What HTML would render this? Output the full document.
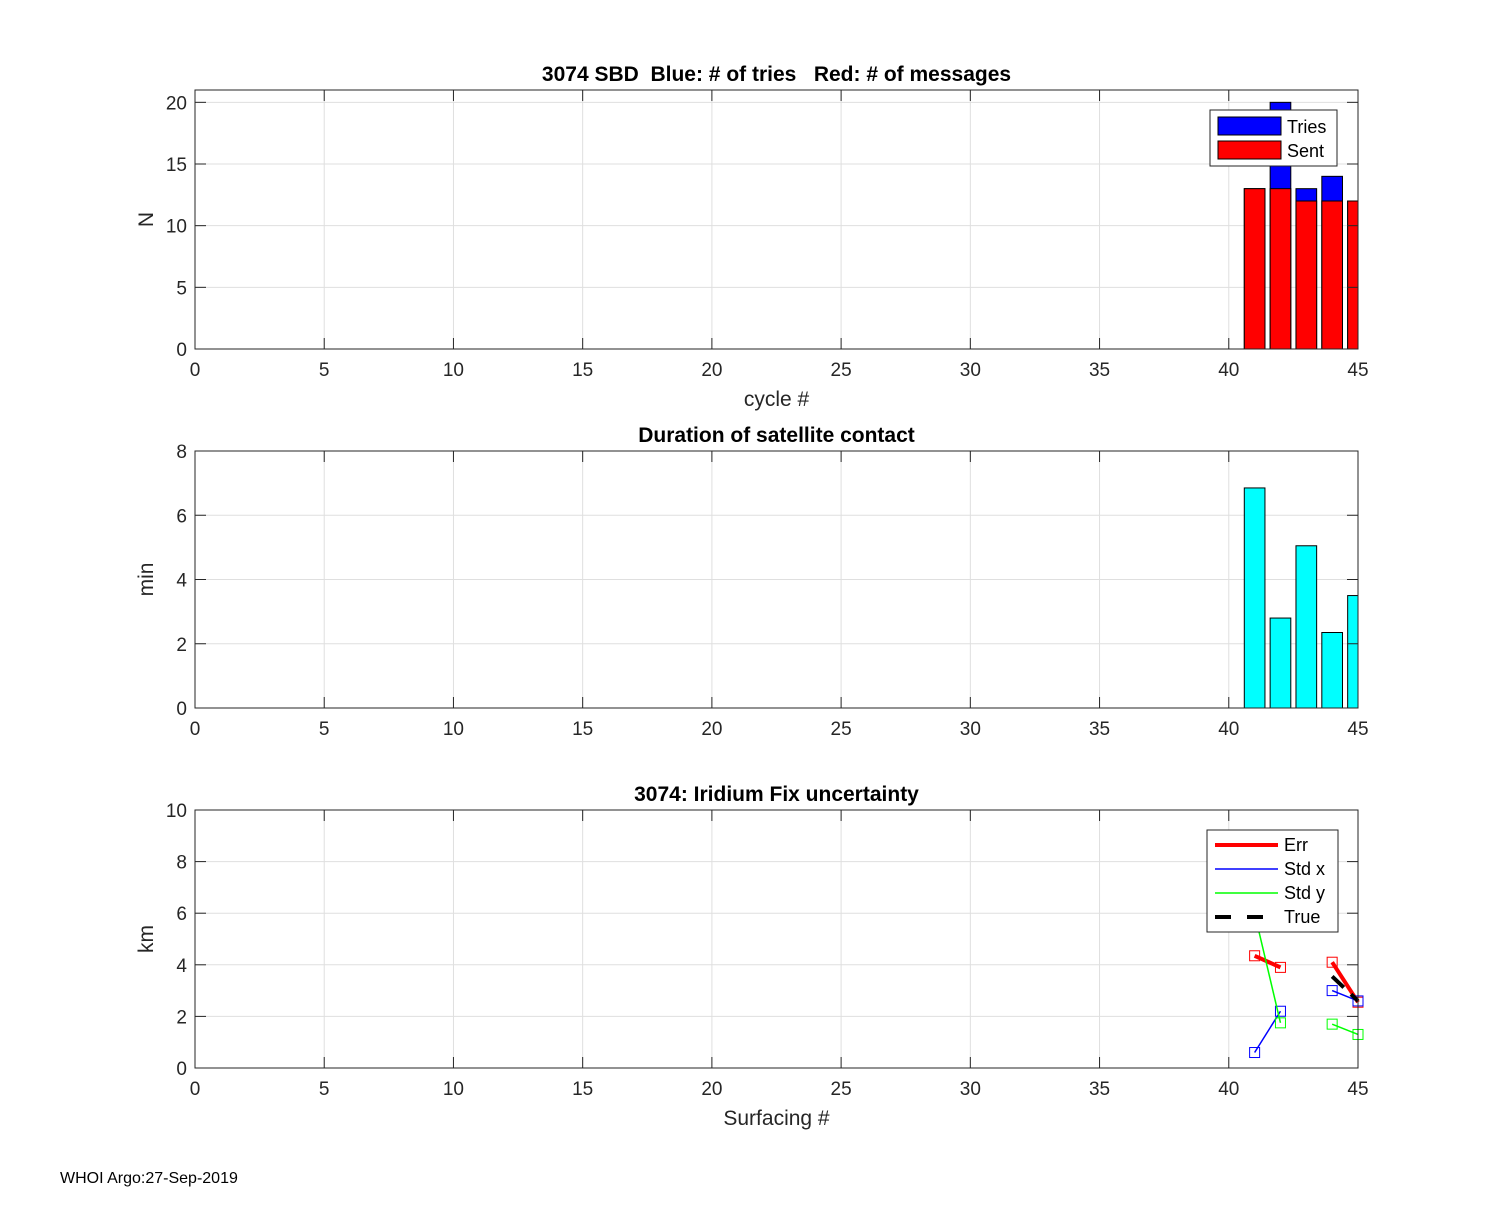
<!DOCTYPE html>
<html><head><meta charset="utf-8"><style>
body{margin:0;background:#fff;width:1500px;height:1200px;overflow:hidden;font-family:"Liberation Sans",sans-serif}
svg text{font-family:"Liberation Sans",sans-serif;white-space:pre}
</style></head><body>
<svg id="fig" width="1500" height="1200" xmlns="http://www.w3.org/2000/svg">
<rect width="1500" height="1200" fill="#fff"/>
<text x="60" y="1183" font-size="16">WHOI Argo:27-Sep-2019</text>
</svg>
<script>
const cycles=[41,42,43,44,45];
const tries=[13,20,13,14,12];
const sent=[13,13,12,12,12];
const durCycles=[41,42,43,44,45];
const duration=[6.85,2.8,5.05,2.35,3.5];
const errX=[41,42,44,45];
const errVals=[4.35,3.9,4.1,2.55];
const stdxVals=[0.6,2.2,3.0,2.6];
const stdyVals=[6.0,1.75,1.7,1.3];
const trueX=[44,45];
const trueVals=[3.55,2.6];
const xTicks=[0,5,10,15,20,25,30,35,40,45];

const NS="http://www.w3.org/2000/svg";
const svg=document.getElementById('fig');
function mk(tag,attrs,parent){const e=document.createElementNS(NS,tag);for(const k in attrs)e.setAttribute(k,attrs[k]);(parent||svg).appendChild(e);return e;}
const X0=195,X1=1358;
function xs(v){return X0+(v/45)*(X1-X0);}

function panel(name,top,bottom,ymax,yTicks,ylabel,title,xlabel){
  const ys=v=>bottom-(v/ymax)*(bottom-top);
  const g=mk('g',{});
  
  
  mk('rect',{x:X0,y:top,width:X1-X0,height:bottom-top,fill:'#fff'},g);
  xTicks.forEach(t=>{const l=mk('line',{x1:xs(t),x2:xs(t),y1:top,y2:bottom,stroke:'#dfdfdf','stroke-width':1},g);
    });
  yTicks.forEach(t=>{const l=mk('line',{x1:X0,x2:X1,y1:ys(t),y2:ys(t),stroke:'#dfdfdf','stroke-width':1},g);
    });
  const plot=mk('g',{},g);
  const frame=mk('rect',{x:X0,y:top,width:X1-X0,height:bottom-top,fill:'none',stroke:'#262626','stroke-width':1},g);
  
  xTicks.forEach(t=>{
    mk('line',{x1:xs(t),x2:xs(t),y1:bottom,y2:bottom-11,stroke:'#262626'},g);
    mk('line',{x1:xs(t),x2:xs(t),y1:top,y2:top+11,stroke:'#262626'},g);
    const tx=mk('text',{x:xs(t),y:bottom+27,'font-size':19,'text-anchor':'middle',fill:'#262626'},g);tx.textContent=t;
    
  });
  yTicks.forEach(t=>{
    mk('line',{x1:X0,x2:X0+11,y1:ys(t),y2:ys(t),stroke:'#262626'},g);
    mk('line',{x1:X1,x2:X1-11,y1:ys(t),y2:ys(t),stroke:'#262626'},g);
    const tx=mk('text',{x:X0-8,y:ys(t)+7,'font-size':19,'text-anchor':'end',fill:'#262626'},g);tx.textContent=t;
    
  });
  const tt=mk('text',{x:(X0+X1)/2,y:top-9,'font-size':21,'font-weight':'bold','text-anchor':'middle'},g);tt.textContent=title;
  
  const yl=mk('text',{x:0,y:0,'font-size':21,'text-anchor':'middle',fill:'#262626',transform:`translate(${X0-42},${(top+bottom)/2}) rotate(-90)`},g);yl.textContent=ylabel;
  
  if(xlabel){const xl=mk('text',{x:(X0+X1)/2,y:bottom+57,'font-size':21,'text-anchor':'middle',fill:'#262626'},g);xl.textContent=xlabel;
    }
  return {g,plot,ys};
}

// Panel 1
const p1=panel('sbd-panel',90,349,21,[0,5,10,15,20],'N','3074 SBD  Blue: # of tries   Red: # of messages','cycle #');
const bw=0.8*(X1-X0)/45;
const c1=mk('clipPath',{id:'c1'},svg);mk('rect',{x:X0,y:90,width:X1-X0,height:259},c1);
p1.plot.setAttribute('clip-path','url(#c1)');
cycles.forEach((c,i)=>{
  const b=mk('rect',{x:xs(c)-bw/2,y:p1.ys(tries[i]),width:bw,height:p1.ys(0)-p1.ys(tries[i]),fill:'#0000ff',stroke:'#000'},p1.plot);
  
  const r=mk('rect',{x:xs(c)-bw/2,y:p1.ys(sent[i]),width:bw,height:p1.ys(0)-p1.ys(sent[i]),fill:'#ff0000',stroke:'#000'},p1.plot);
  
});
const lg1=mk('g',{},p1.g);

mk('rect',{x:1210,y:110,width:127,height:56,fill:'#fff',stroke:'#262626'},lg1);
mk('rect',{x:1218,y:117,width:63,height:18,fill:'#0000ff',stroke:'#000'},lg1);
mk('rect',{x:1218,y:141,width:63,height:18,fill:'#ff0000',stroke:'#000'},lg1);
let t=mk('text',{x:1287,y:133,'font-size':18},lg1);t.textContent='Tries';
t=mk('text',{x:1287,y:157,'font-size':18},lg1);t.textContent='Sent';

// Panel 2
const p2=panel('duration-panel',451,708,8,[0,2,4,6,8],'min','Duration of satellite contact',null);
const c2=mk('clipPath',{id:'c2'},svg);mk('rect',{x:X0,y:451,width:X1-X0,height:257},c2);
p2.plot.setAttribute('clip-path','url(#c2)');
durCycles.forEach((c,i)=>{
  const b=mk('rect',{x:xs(c)-bw/2,y:p2.ys(duration[i]),width:bw,height:p2.ys(0)-p2.ys(duration[i]),fill:'#00ffff',stroke:'#000'},p2.plot);
  
});

// Panel 3
const p3=panel('fix-uncertainty-panel',810,1068,10,[0,2,4,6,8,10],'km','3074: Iridium Fix uncertainty','Surfacing #');
function series(vals,color,w,name,dash){
  for(let s=0;s<2;s++){
    const a=vals.slice(s*2,s*2+2),xx=errX.slice(s*2,s*2+2);
    const l=mk('polyline',{points:xx.map((x,i)=>xs(x)+','+p3.ys(a[i])).join(' '),fill:'none',stroke:color,'stroke-width':w},p3.plot);
    if(dash)l.setAttribute('stroke-dasharray',dash);
    
    xx.forEach((x,i)=>{const m=mk('rect',{x:xs(x)-5,y:p3.ys(a[i])-5,width:10,height:10,fill:'none',stroke:color,'stroke-width':1},p3.plot);
      });
  }
}
series(errVals,'#ff0000',4,'err');
series(stdxVals,'#0000ff',1.5,'std-x');
series(stdyVals,'#00ff00',1.5,'std-y');
const tl=mk('polyline',{points:trueX.map((x,i)=>xs(x)+','+p3.ys(trueVals[i])).join(' '),fill:'none',stroke:'#000','stroke-width':4,'stroke-dasharray':'16 10'},p3.plot);

const lg3=mk('g',{},p3.g);

mk('rect',{x:1207,y:830,width:131,height:102,fill:'#fff',stroke:'#262626'},lg3);
mk('line',{x1:1215,x2:1278,y1:845,y2:845,stroke:'#ff0000','stroke-width':4},lg3);
mk('line',{x1:1215,x2:1278,y1:869,y2:869,stroke:'#0000ff','stroke-width':1.5},lg3);
mk('line',{x1:1215,x2:1278,y1:893,y2:893,stroke:'#00ff00','stroke-width':1.5},lg3);
mk('line',{x1:1215,x2:1278,y1:917,y2:917,stroke:'#000','stroke-width':4,'stroke-dasharray':'16 16'},lg3);
[['Err',851],['Std x',875],['Std y',899],['True',923]].forEach(([s,y])=>{const e=mk('text',{x:1284,y:y,'font-size':18},lg3);e.textContent=s;});
</script>
</body></html>
